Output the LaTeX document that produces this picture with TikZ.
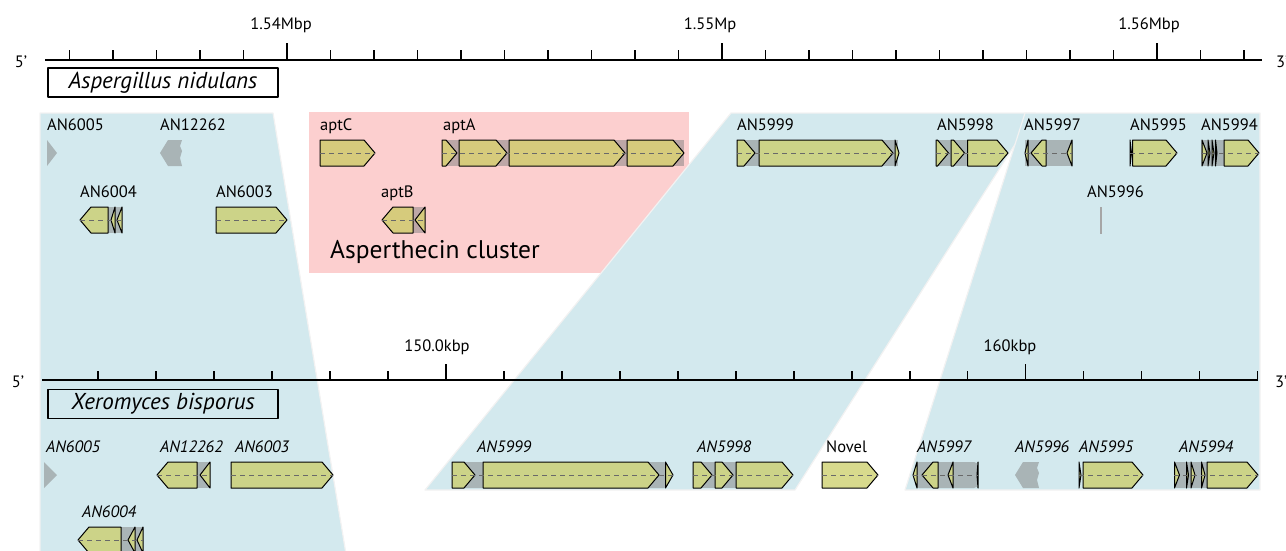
\documentclass[tikz,border=0pt]{standalone}
\usepackage{fontspec}
\setmainfont{PT Sans}
\definecolor{synteny}{RGB}{211,233,238}
\definecolor{cluster}{RGB}{252,207,207}
\definecolor{exon}{RGB}{204,211,136}
\definecolor{exonpink}{RGB}{214,203,124}
\definecolor{exonpale}{RGB}{216,218,141}
\definecolor{dashgray}{RGB}{105,105,105}
\begin{document}
\begin{tikzpicture}[x=1pt, y=-1pt, line join=round,
	lbl/.style={anchor=base west, inner sep=0pt, font=\fontsize{16.5}{19}\selectfont},
	ilbl/.style={lbl, font=\fontsize{16.5}{19}\selectfont\itshape},
	scalelbl/.style={anchor=base, inner sep=0pt, font=\fontsize{16.5}{19}\selectfont},
	endlbl/.style={inner sep=0pt, font=\fontsize{16.5}{19}\selectfont},
	gene/.style={draw=black, line width=1pt, fill=exon},
	intron/.style={fill=gray, fill opacity=0.5},
	ghost/.style={fill=gray, fill opacity=0.5},
	cds/.style={dashgray, dash pattern=on 5pt off 4pt, line width=0.7pt},
	block/.style={fill=synteny, draw=white!90!gray, line width=1.2pt},
	axis/.style={line width=2pt},
	species/.style={draw, line width=1.6pt, minimum width=230pt, minimum height=29pt, inner sep=0pt, font=\fontsize{23}{26}\selectfont\itshape}]
	\useasboundingbox (0,0) rectangle (1286,551);
	\def\gh{13} \def\hl{11}
	\def\genef#1#2#3{\pgfmathsetmacro\hx{max(#1,#2-\hl)}
		\draw[gene] (#1,#3-\gh) -- (\hx,#3-\gh) -- (#2,#3) -- (\hx,#3+\gh) -- (#1,#3+\gh) -- cycle;}
	\def\gener#1#2#3{\pgfmathsetmacro\hx{min(#2,#1+\hl)}
		\draw[gene] (#2,#3-\gh) -- (\hx,#3-\gh) -- (#1,#3) -- (\hx,#3+\gh) -- (#2,#3+\gh) -- cycle;}
	\def\locus#1#2#3{\fill[intron] (#1,#3-\gh) rectangle (#2,#3+\gh);}
	\def\cdsline#1#2#3{\draw[cds] (#1,#3) -- (#2,#3);}
	% cluster and synteny blocks
	\fill[cluster] (309,112) rectangle (689,273);
	\node[anchor=base west, inner sep=0pt, font=\fontsize{25.5}{30}\selectfont] (clus) at (330,258) {Asperthecin cluster};
	\draw[block] (40,113) -- (273,113) -- (347,560) -- (40,560) -- cycle;
	\draw[block] (731,113) -- (1035,113) -- (795,490) -- (425,490) -- cycle;
	\draw[block] (1025,113) -- (1260,113) -- (1260,490) -- (905,490) -- cycle;
	% scale of A. nidulans
	\draw[axis] (45,60) -- (1262,60);
	\node[endlbl] (t5) at (21,62) {5’};
	\node[endlbl, anchor=west] (t3) at (1276,62) {3’};
	\foreach \k in {-5,...,22}{
		\pgfmathsetmacro\tx{287+43.5*\k}
		\draw[line width=1.5pt] (\tx,60) -- (\tx,50);}
	\foreach \k in {0,10,20}
		\draw[line width=1.5pt] (287+43.5*\k,60) -- (287+43.5*\k,43);
	\node[scalelbl] (m154) at (281,30) {1.54Mbp};
	\node[scalelbl] (m155) at (710,30) {1.55Mp};
	\node[scalelbl] (m156) at (1149,30) {1.56Mbp};
	\node[species] (anid) at (163,82.5) {Aspergillus nidulans};
	% scale of X. bisporus
	\draw[axis] (42,380) -- (1258,380);
	\node[endlbl] (b5) at (18,382) {5’};
	\node[endlbl, anchor=west] (b3) at (1275,382) {3’};
	\foreach \k in {-6,...,14}{
		\pgfmathsetmacro\tx{446+57.97*\k}
		\draw[line width=1.5pt] (\tx,380) -- (\tx,371);}
	\foreach \k in {0,10}
		\draw[line width=1.5pt] (446+57.97*\k,380) -- (446+57.97*\k,364);
	\node[scalelbl] (k150) at (437,351) {150.0kbp};
	\node[scalelbl] (k160) at (1010,351) {160kbp};
	\node[species] (xbis) at (163,404) {Xeromyces bisporus};
	% A. nidulans genes
	\fill[ghost] (47,140) -- (57,153) -- (47,166) -- cycle;
	\fill[ghost] (160,153) -- (168,140) -- (182,140) -- (180,146) -- (182,151) -- (180,158) -- (182,166) -- (168,166) -- cycle;
	\begin{scope}
		\colorlet{exon}{exonpink}
		\genef{320}{375}{153} \cdsline{320}{375}{153}
		\locus{442}{684}{153}
		\genef{442}{457}{153} \genef{459}{507}{153} \genef{509}{625}{153} \genef{627}{684}{153}
		\cdsline{442}{684}{153}
		\locus{413}{425}{220}
		\gener{382}{413}{220} \gener{415}{425}{220}
		\cdsline{382}{425}{220}
	\end{scope}
	\locus{737}{898}{153}
	\genef{737}{755}{153} \genef{759}{893}{153} \genef{895}{899}{153}
	\cdsline{737}{899}{153}
	\locus{936}{968}{153}
	\genef{936}{948.5}{153} \genef{951}{964.5}{153} \genef{967.5}{1008}{153}
	\cdsline{936}{1008}{153}
	\locus{1025}{1072}{153}
	\gener{1025}{1028}{153} \gener{1031}{1046}{153} \gener{1067}{1072}{153}
	\cdsline{1025}{1072}{153}
	\genef{1130}{1131.5}{153} \genef{1132.5}{1177}{153}
	\cdsline{1130}{1177}{153}
	\locus{1201}{1224}{153}
	\genef{1202}{1207}{153} \genef{1208}{1210}{153} \genef{1212}{1214}{153} \genef{1215.5}{1217}{153}
	\genef{1224}{1259}{153}
	\cdsline{1201}{1259}{153}
	\locus{108}{122}{220}
	\gener{80}{108}{220} \gener{111}{115}{220} \gener{117}{122}{220}
	\cdsline{80}{122}{220}
	\genef{216}{287}{220} \cdsline{216}{287}{220}
	\draw[gray!70, line width=2pt] (1100.5,207) -- (1100.5,234);
	% X. bisporus genes
	\fill[ghost] (44,462) -- (57,475) -- (44,488) -- cycle;
	\locus{197}{210}{475}
	\gener{157}{197}{475} \gener{200}{210}{475}
	\cdsline{157}{210}{475}
	\genef{231}{333}{475} \cdsline{231}{333}{475}
	\fill[intron, rounded corners=4pt] (452,462) rectangle (668,488);
	\genef{452}{475}{475} \genef{483}{659}{475} \genef{665.5}{673}{475}
	\cdsline{452}{673}{475}
	\locus{693}{736}{475}
	\genef{693}{712}{475} \genef{715}{733}{475} \genef{736}{793}{475}
	\cdsline{693}{793}{475}
	\begin{scope}
		\colorlet{exon}{exonpale}
		\genef{822}{878}{475} \cdsline{822}{878}{475}
	\end{scope}
	\fill[intron, rounded corners=4pt] (915,462) rectangle (978,488);
	\gener{913}{917}{475} \gener{922}{938}{475} \gener{948}{953}{475} \gener{977}{978}{475}
	\cdsline{913}{978}{475}
	\fill[ghost] (1015,475) -- (1023,462) -- (1039,462) -- (1037,468) -- (1039,473) -- (1037,480) -- (1039,488) -- (1023,488) -- cycle;
	\genef{1079}{1081}{475} \genef{1083}{1143}{475}
	\cdsline{1079}{1143}{475}
	\locus{1174}{1207}{475}
	\genef{1174.5}{1179.5}{475} \genef{1186.5}{1188.5}{475} \genef{1191}{1195}{475} \genef{1201.5}{1205}{475}
	\genef{1207}{1258}{475}
	\cdsline{1174}{1258}{475}
	\locus{121}{143}{540}
	\gener{78}{121}{540} \gener{128}{135}{540} \gener{137}{143}{540}
	\cdsline{78}{143}{540}
	% gene labels
	\node[lbl] (a6005) at (47,131) {AN6005};
	\node[lbl] (a12262) at (160,131) {AN12262};
	\node[lbl] (aaptC) at (320,131) {aptC};
	\node[lbl] (aaptA) at (443,131) {aptA};
	\node[lbl] (a5999) at (737,131) {AN5999};
	\node[lbl] (a5998) at (937,131) {AN5998};
	\node[lbl] (a5997) at (1024,131) {AN5997};
	\node[lbl] (a5995) at (1130,131) {AN5995};
	\node[lbl] (a5994) at (1201,131) {AN5994};
	\node[lbl] (a6004) at (80,197) {AN6004};
	\node[lbl] (a6003) at (216,197) {AN6003};
	\node[lbl] (aaptB) at (381,197) {aptB};
	\node[lbl] (a5996) at (1087,197) {AN5996};
	\node[ilbl] (b6005) at (46,452) {AN6005};
	\node[ilbl] (b12262) at (160,452) {AN12262};
	\node[ilbl] (b6003) at (235,452) {AN6003};
	\node[ilbl] (b5999) at (477,452) {AN5999};
	\node[ilbl] (b5998) at (697,452) {AN5998};
	\node[lbl] (bnovel) at (826,452) {Novel};
	\node[ilbl] (b5997) at (917,452) {AN5997};
	\node[ilbl] (b5996) at (1015,452) {AN5996};
	\node[ilbl] (b5995) at (1079,452) {AN5995};
	\node[ilbl] (b5994) at (1179,452) {AN5994};
	\node[ilbl] (b6004) at (82,517) {AN6004};
\end{tikzpicture}
\end{document}
